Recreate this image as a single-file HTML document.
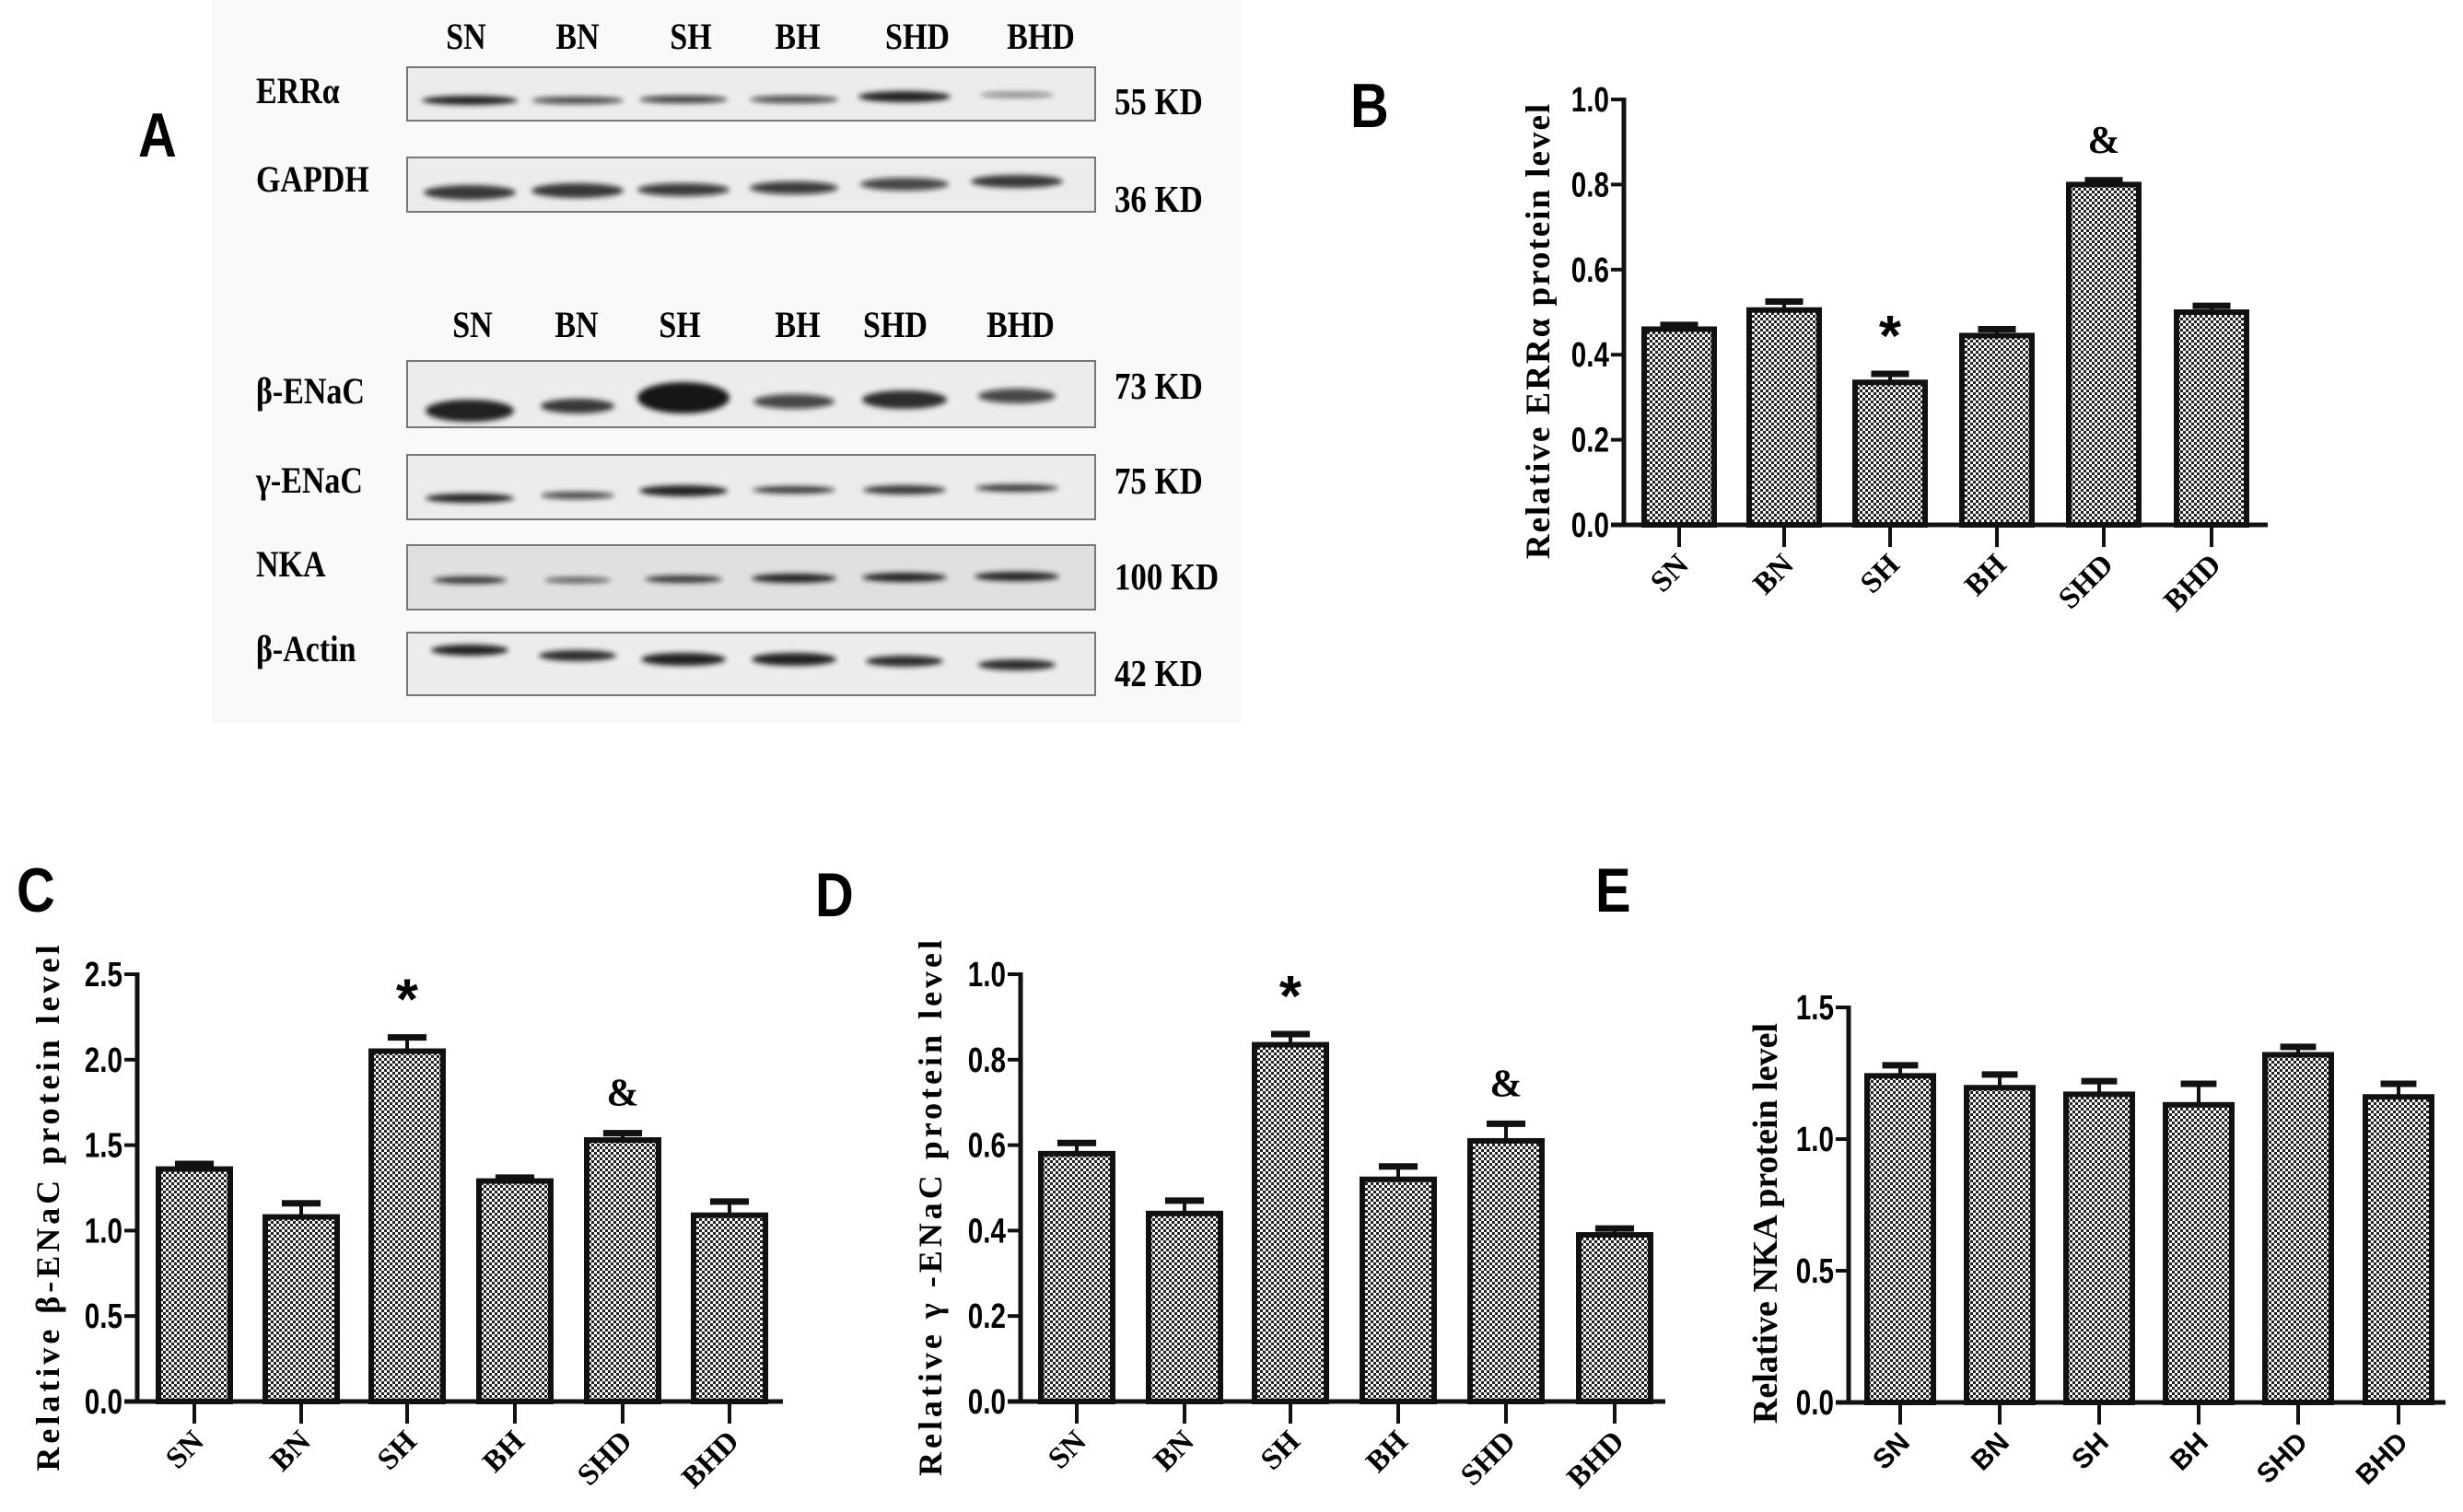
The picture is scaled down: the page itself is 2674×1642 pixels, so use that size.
<!DOCTYPE html>
<html><head><meta charset="utf-8">
<style>
html,body{margin:0;padding:0;background:#fff;}
svg{display:block;}
.lbl{font-family:"Liberation Serif",serif;font-weight:bold;}
.sans{font-family:"Liberation Sans",sans-serif;font-weight:bold;}
</style></head>
<body>
<svg id="fig" width="2674" height="1642" viewBox="0 0 2674 1642" xmlns="http://www.w3.org/2000/svg">
<defs>
<pattern id="chk" width="6" height="6" patternUnits="userSpaceOnUse">
<rect width="6" height="6" fill="#fff"/>
<rect width="3" height="3" fill="#222"/>
<rect x="3" y="3" width="3" height="3" fill="#222"/>
</pattern>
<filter id="blur" x="-20%" y="-100%" width="140%" height="300%"><feGaussianBlur stdDeviation="3"/></filter>
</defs>

<g>
<rect x="230" y="0" width="1117" height="785" fill="#f9f9f9"/>
<text class="sans" x="150" y="170" font-size="68" transform="translate(150,0) scale(0.85,1) translate(-150,0)">A</text>
<g id="blots"></g>
</g>

<g id="charts"></g>
</svg>

<script>
const categories = ["SN","BN","SH","BH","SHD","BHD"];

const valuesB = [0.46, 0.505, 0.335, 0.445, 0.80, 0.50];
const errorsB = [0.01, 0.02, 0.02, 0.015, 0.01, 0.015];
const ticksB = [0.0, 0.2, 0.4, 0.6, 0.8, 1.0];
const tickLabelsB = ["0.0","0.2","0.4","0.6","0.8","1.0"];
const marksB = ["", "", "*", "", "&", ""];

const valuesC = [1.36, 1.08, 2.05, 1.29, 1.53, 1.09];
const errorsC = [0.03, 0.08, 0.08, 0.02, 0.04, 0.08];
const ticksC = [0.0, 0.5, 1.0, 1.5, 2.0, 2.5];
const tickLabelsC = ["0.0","0.5","1.0","1.5","2.0","2.5"];
const marksC = ["", "", "*", "", "&", ""];

const valuesD = [0.58, 0.44, 0.835, 0.52, 0.61, 0.39];
const errorsD = [0.025, 0.03, 0.025, 0.03, 0.04, 0.015];
const ticksD = [0.0, 0.2, 0.4, 0.6, 0.8, 1.0];
const tickLabelsD = ["0.0","0.2","0.4","0.6","0.8","1.0"];
const marksD = ["", "", "*", "", "&", ""];

const valuesE = [1.24, 1.195, 1.17, 1.13, 1.32, 1.16];
const errorsE = [0.04, 0.05, 0.05, 0.08, 0.03, 0.05];
const ticksE = [0.0, 0.5, 1.0, 1.5];
const tickLabelsE = ["0.0","0.5","1.0","1.5"];

const NS = "http://www.w3.org/2000/svg";
function mk(tag, attrs, parent){
  const e = document.createElementNS(NS, tag);
  for (const k in attrs) e.setAttribute(k, attrs[k]);
  if (parent) parent.appendChild(e);
  return e;
}

const blots = document.getElementById('blots');
function laneLabels(y, xs){
  categories.forEach((c,i)=>{
    const t = mk('text',{x:xs[i], y:y, 'text-anchor':'middle', 'font-size':40, class:'lbl',
      transform:`translate(${xs[i]},0) scale(0.85,1) translate(${-xs[i]},0)`}, blots);
    
    
    t.textContent = c;
  });
}
laneLabels(53, [506,627,750,866,996,1130]);
laneLabels(366, [513,626,738,866,972,1108]);

function blot(name, label, kdText, kdY, labelY, y, h, bandY, widths, thick, dark, noisy){
  const g = mk('g', {}, blots);
  
  
  mk('rect',{x:442,y:y,width:747,height:h,fill: noisy ? '#e0e0e0' : '#ececec', stroke:'#777','stroke-width':2}, g);
  const lanes = [510,627,742,862,982,1104];
  lanes.forEach((lx,i)=>{
    mk('ellipse',{cx:lx, cy:bandY[i], rx:widths[i], ry:thick[i], fill:`rgba(20,20,20,${dark[i]})`, filter:'url(#blur)'}, g);
  });
  const t = mk('text',{x:278, y:labelY, 'font-size':40, class:'lbl',
    transform:'translate(278,0) scale(0.85,1) translate(-278,0)'}, g);
  
  
  t.textContent = label;
  const k = mk('text',{x:1210, y:kdY, 'font-size':41, class:'lbl',
    transform:'translate(1210,0) scale(0.85,1) translate(-1210,0)'}, g);
  
  
  k.textContent = kdText;
}
blot('blot-erra','ERRα','55 KD',124,112,73,58,[109,109,108,108,105,103],[52,50,48,48,50,40],[5,4,4,4,6,3],[0.95,0.75,0.8,0.75,0.95,0.5],false);
blot('blot-gapdh','GAPDH','36 KD',230,208,171,59,[209,207,206,204,200,197],[50,50,50,48,48,50],[8,8,7,7,7,7],[0.85,0.85,0.8,0.8,0.75,0.85],false);
blot('blot-beta-enac','β-ENaC','73 KD',433,438,392,72,[446,441,432,436,434,430],[48,40,50,44,46,42],[12,8,17,8,10,8],[0.95,0.85,1,0.75,0.9,0.75],false);
blot('blot-gamma-enac','γ-ENaC','75 KD',536,535,494,70,[541,538,533,532,532,530],[48,40,48,45,45,45],[5,4,6,4,5,4],[0.95,0.75,0.95,0.85,0.85,0.85],false);
blot('blot-nka','NKA','100 KD',640,626,592,70,[630,630,629,628,627,626],[40,36,42,46,46,46],[4,3,4,5,5,5],[0.85,0.7,0.85,0.95,0.95,0.95],true);
blot('blot-beta-actin','β-Actin','42 KD',745,718,687,68,[706,712,716,716,718,722],[42,42,46,46,42,42],[6,6,7,7,6,6],[0.95,0.9,0.95,0.95,0.9,0.9],false);

const charts = document.getElementById('charts');
function chart(opts){
  const {id, letter, lx, ly, axisX, axisEnd, y0, yTop, vmax, centers, barW, values, errors, ticks, tickLabels, marks, ylabel, ylabelX, sansTicks, ylabelSpacing, ylabelSize} = opts;
  const g = mk('g', {}, charts);
  
  
  const yScale = v => y0 - (v / vmax) * (y0 - yTop);
  const L = mk('text',{x:lx,y:ly,'font-size':68,class:'sans',
    transform:`translate(${lx},0) scale(0.85,1) translate(${-lx},0)`}, g);
  
  
  L.textContent = letter;
  values.forEach((v,i)=>{
    const cx = centers[i];
    const top = yScale(v), etop = yScale(v + errors[i]);
    const eb = mk('line',{x1:cx,x2:cx,y1:top,y2:etop,stroke:'#111','stroke-width':4}, g);
    
    
    const cap = mk('line',{x1:cx-barW*0.27,x2:cx+barW*0.27,y1:etop,y2:etop,stroke:'#111','stroke-width':7}, g);
    
    
    const r = mk('rect',{x:cx-barW/2,y:top,width:barW,height:y0-top,fill:'url(#chk)',stroke:'#111','stroke-width':6}, g);
    
    
    if (marks && marks[i]){
      const star = marks[i] === '*';
      const m = mk('text',{x:cx,y:etop - (star ? 20 : 30),'text-anchor':'middle','font-size': star ? 62 : 42,class: star ? 'sans' : 'lbl', 'font-weight': star ? 'normal' : 'bold'}, g);
      
      
      m.textContent = marks[i];
    }
    mk('line',{x1:cx,x2:cx,y1:y0,y2:y0+24,stroke:'#111','stroke-width':4}, g);
    const tx = cx + 12, ty = y0 + 45;
    const tl = mk('text',{x:tx,y:ty,'text-anchor':'end','font-size': sansTicks ? 30 : 33,
      class: sansTicks ? 'sans' : 'lbl',
      transform:`rotate(-45 ${tx} ${ty})`}, g);
    
    
    tl.textContent = categories[i];
  });
  const ya = mk('line',{x1:axisX,x2:axisX,y1:yTop-2,y2:y0+2,stroke:'#111','stroke-width':5}, g);
  
  
  const xa = mk('line',{x1:axisX-14,x2:axisEnd,y1:y0,y2:y0,stroke:'#111','stroke-width':5}, g);
  
  
  ticks.forEach((t,i)=>{
    const y = yScale(t);
    mk('line',{x1:axisX-14,x2:axisX,y1:y,y2:y,stroke:'#111','stroke-width':4}, g);
    const tx = axisX - 16;
    const tt = mk('text',{x:tx,y:y+13,'text-anchor':'end','font-size':38,class:'sans',
      transform:`translate(${tx},0) scale(0.78,1) translate(${-tx},0)`}, g);
    
    
    tt.textContent = tickLabels[i];
  });
  const cy = (y0 + yTop)/2 + 20;
  const yl = mk('text',{x:ylabelX,y:cy,'text-anchor':'middle','font-size':ylabelSize || 36,class:'lbl',
    'letter-spacing': ylabelSpacing || 0, transform:`rotate(-90 ${ylabelX} ${cy})`}, g);
  
  
  yl.textContent = ylabel;
}

chart({id:'b', letter:'B', lx:1466, ly:138, axisX:1763, axisEnd:2462, y0:570, yTop:108, vmax:1.0,
  centers:[1823,1937,2052,2168,2284,2401], barW:76, values:valuesB, errors:errorsB, ticks:ticksB,
  tickLabels:tickLabelsB, marks:marksB, ylabel:'Relative ERRα  protein level', ylabelX:1682, ylabelSpacing:2, ylabelSize:37});
chart({id:'c', letter:'C', lx:18, ly:990, axisX:149, axisEnd:850, y0:1522, yTop:1058, vmax:2.5,
  centers:[211,327,442,559,676,792], barW:78, values:valuesC, errors:errorsC, ticks:ticksC,
  tickLabels:tickLabelsC, marks:marksC, ylabel:'Relative  β-ENaC  protein level', ylabelX:64, ylabelSpacing:4});
chart({id:'d', letter:'D', lx:885, ly:995, axisX:1108, axisEnd:1808, y0:1522, yTop:1058, vmax:1.0,
  centers:[1169,1286,1401,1518,1635,1753], barW:78, values:valuesD, errors:errorsD, ticks:ticksD,
  tickLabels:tickLabelsD, marks:marksD, ylabel:'Relative γ -ENaC protein level', ylabelX:1022, ylabelSpacing:4});
chart({id:'e', letter:'E', lx:1732, ly:990, axisX:2007, axisEnd:2655, y0:1523, yTop:1094, vmax:1.5,
  centers:[2063,2171,2279,2387,2495,2604], barW:72, values:valuesE, errors:errorsE, ticks:ticksE,
  tickLabels:tickLabelsE, marks:null, ylabel:'Relative NKA protein level', ylabelX:1929, sansTicks:true, ylabelSize:38});
</script>
</body></html>
